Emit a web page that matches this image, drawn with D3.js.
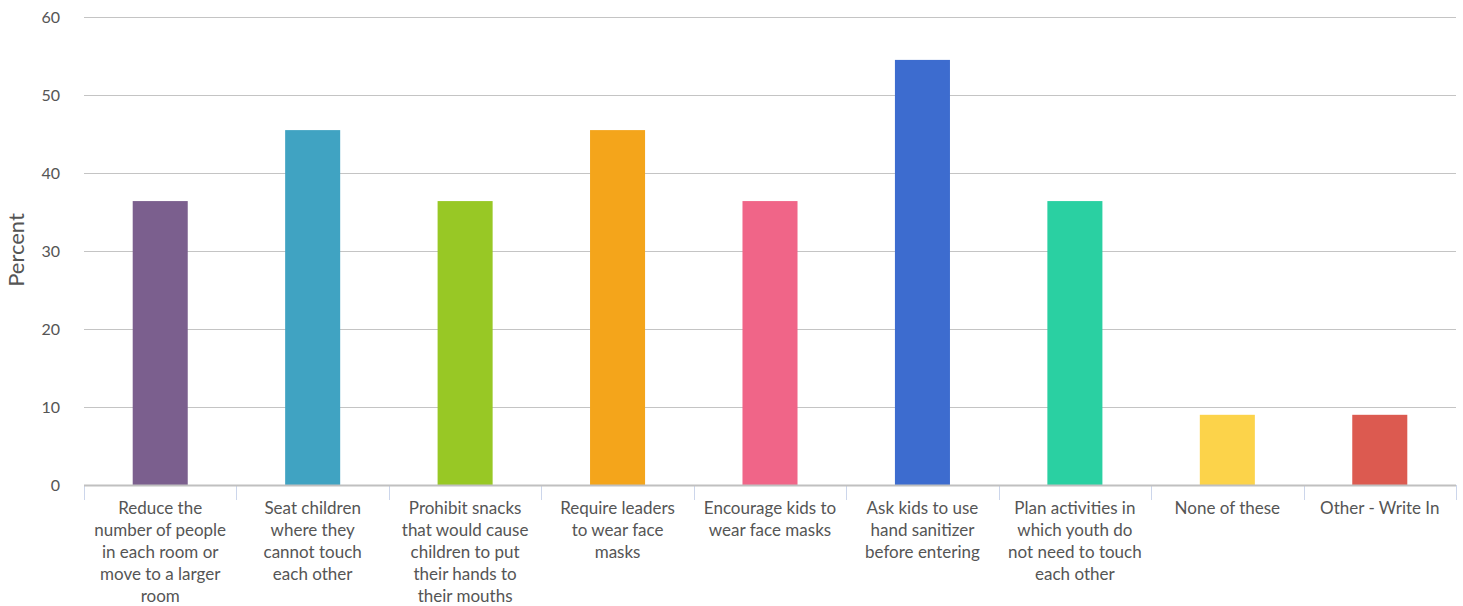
<!DOCTYPE html>
<html><head><meta charset="utf-8">
<script src="https://cdn.jsdelivr.net/npm/d3@7"></script>
<style>body{margin:0;background:#fff;} text{font-family:Lato, "Open Sans", sans-serif;}</style>
</head><body><svg id="c" width="1463" height="606"></svg>
<script>
const categories = [
  "Reduce the\nnumber of people\nin each room or\nmove to a larger\nroom",
  "Seat children\nwhere they\ncannot touch\neach other",
  "Prohibit snacks\nthat would cause\nchildren to put\ntheir hands to\ntheir mouths",
  "Require leaders\nto wear face\nmasks",
  "Encourage kids to\nwear face masks",
  "Ask kids to use\nhand sanitizer\nbefore entering",
  "Plan activities in\nwhich youth do\nnot need to touch\neach other",
  "None of these",
  "Other - Write In"
];
const values = [36.4, 45.5, 36.4, 45.5, 36.4, 54.5, 36.4, 9.0, 9.0];
const colors = ["#7b5f8e","#40a3c2","#98c825","#f4a51b","#f06588","#3d6ccf","#2ad0a2","#fcd34a","#dc5a50"];
const yTicks = [0,10,20,30,40,50,60];
const yTitle = "Percent";

const svg = d3.select("#c");
const pL = 84, pR = 1456, pT = 17, pB = 485;
const x = d3.scaleBand().domain(d3.range(categories.length)).range([pL, pR]).paddingInner(0.639).paddingOuter(0.3195);
const xc = d3.scaleBand().domain(d3.range(categories.length)).range([pL, pR]);
const y = d3.scaleLinear().domain([0, 60]).range([pB, pT]);

// gridlines
svg.append("g").selectAll("line").data(yTicks.filter(d => d > 0)).join("line")
  .attr("x1", pL).attr("x2", pR).attr("y1", d => Math.round(y(d))+0.5).attr("y2", d => Math.round(y(d))+0.5)
  .attr("stroke", "#c4c4c4").attr("stroke-width", 1);

// y labels
svg.append("g").selectAll("text").data(yTicks).join("text")
  .attr("x", 60).attr("y", d => y(d)).attr("dy", "0.35em")
  .attr("text-anchor", "end").attr("font-size", 16).attr("fill", "#555").text(d => d);

// y title
svg.append("text").attr("transform", `translate(24,250) rotate(-90)`)
  .attr("text-anchor","middle").attr("font-size", 22).attr("fill","#555").text(yTitle);

// bars
svg.append("g").selectAll("rect").data(values).join("rect")
  .attr("x", (d,i) => x(i)).attr("width", x.bandwidth())
  .attr("y", d => y(d)).attr("height", d => pB - y(d))
  .attr("fill", (d,i) => colors[i]);

// x ticks
const tickPos = d3.range(categories.length + 1).map(i => i < categories.length ? xc(i) : pR);
svg.append("g").selectAll("line").data(tickPos).join("line")
  .attr("x1", d => Math.round(d)+0.5).attr("x2", d => Math.round(d)+0.5).attr("y1", pB).attr("y2", pB + 15)
  .attr("stroke", "#ccd6eb").attr("stroke-width", 1);

// baseline
svg.append("line").attr("x1", pL).attr("x2", pR).attr("y1", pB+0.5).attr("y2", pB+0.5)
  .attr("stroke", "#c0c0c0").attr("stroke-width", 2);

// x labels
const lab = svg.append("g").selectAll("text").data(categories).join("text")
  .attr("text-anchor","middle").attr("font-size", 17).attr("fill","#555");
lab.each(function(d,i){
  const t = d3.select(this);
  d.split("\n").forEach((ln,k) => {
    t.append("tspan").attr("x", xc(i) + xc.bandwidth()/2).attr("y", 514 + k*22).text(ln);
  });
});
</script></body></html>
